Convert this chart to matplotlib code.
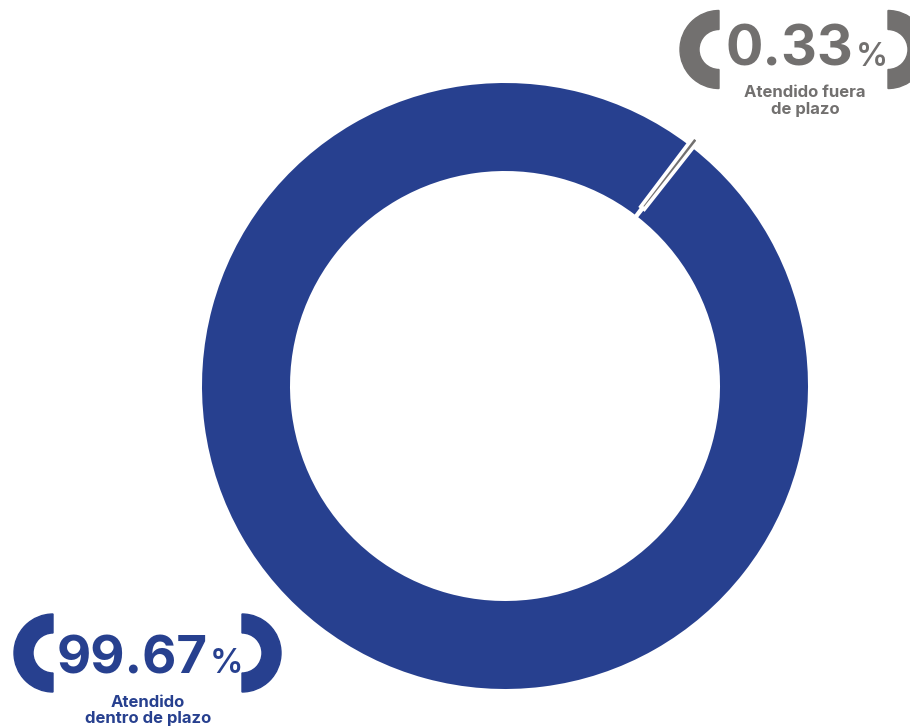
import matplotlib
matplotlib.use('Agg')
import matplotlib.pyplot as plt
from matplotlib.patches import Wedge

# Data
categories = ['Atendido\ndentro de plazo', 'Atendido fuera\nde plazo']
shares = [99.67, 0.33]
colors = ['#27408f', '#72706f']

W, H = 910, 727
fig = plt.figure(figsize=(W / 100, H / 100), dpi=100)
fig.patch.set_facecolor('white')

# donut: center (505, 386) px, outer radius 303 px, ring width 88 px
cx, cy, r_out = 505, 386, 303
ax = fig.add_axes([(cx - r_out) / W, (H - cy - r_out) / H, 2 * r_out / W, 2 * r_out / H])
wedges, _ = ax.pie(shares, colors=colors, startangle=52.9, counterclock=True,
                   explode=[0, 10 / r_out], radius=1,
                   wedgeprops=dict(width=88 / r_out, linewidth=0))
# thin white gap around the small slice
wedges[1].set_edgecolor('white')
wedges[1].set_linewidth(2.6)
for w in wedges:
    w.set_clip_on(False)
ax.set_xlim(-1, 1)
ax.set_ylim(-1, 1)
ax.set_aspect('equal')
ax.axis('off')

# overlay in pixel coordinates for the labels
ov = fig.add_axes([0, 0, 1, 1])
ov.set_xlim(0, W)
ov.set_ylim(H, 0)
ov.axis('off')

font = 'Inter'


def bracket_label(x0, x1, yc, value, cat, color, num_size, pct_size, num_x, num_base,
                  cat_x, cat_base, line_gap):
    ov.add_patch(Wedge((x0, yc), 39, 90, 270, width=19, color=color, clip_on=True))
    ov.add_patch(Wedge((x1, yc), 39, -90, 90, width=19, color=color, clip_on=True))
    t = ov.text(num_x, num_base, f'{value:.2f}', fontsize=num_size, fontweight='bold',
                family=font, color=color, ha='left', va='baseline')
    fig.canvas.draw()
    bb = t.get_window_extent()
    x_end = bb.x1 + 2
    ov.text(x_end, num_base, '%', fontsize=pct_size, fontweight='semibold', family=font,
            color=color, ha='left', va='baseline')
    for i, line in enumerate(cat.split('\n')):
        ov.text(cat_x, cat_base + i * line_gap, line, fontsize=12, fontweight='bold',
                family=font, color=color, ha='center', va='baseline')


bracket_label(719, 888, 49.5, shares[1], categories[1], colors[1], 40, 23,
              726, 66, 805, 97, 17)
bracket_label(53, 242, 653, shares[0], categories[0], colors[0], 38, 24,
              57, 673, 148, 707, 16)

fig.savefig('out.png', dpi=100, facecolor='white')
